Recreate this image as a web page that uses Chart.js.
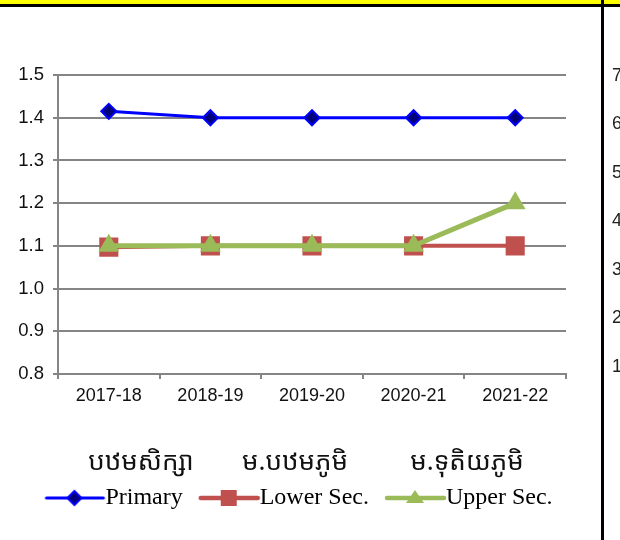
<!DOCTYPE html>
<html>
<head>
<meta charset="utf-8">
<script src="https://cdn.jsdelivr.net/npm/chart.js@4"></script>
<style>
html,body{margin:0;padding:0;background:#fff;}
#wrap{position:relative;width:620px;height:540px;}
canvas{display:block;}
</style>
</head>
<body>
<div id="wrap"><canvas id="c" width="620" height="540"></canvas></div>
<script>
const categories = ['2017-18', '2018-19', '2019-20', '2020-21', '2021-22'];
const primary = [1.415, 1.40, 1.40, 1.40, 1.40];
const lowerSec = [1.097, 1.10, 1.10, 1.10, 1.10];
const upperSec = [1.10, 1.10, 1.10, 1.10, 1.20];
const seriesNames = ['Primary', 'Lower Sec.', 'Upper Sec.'];
const khmerNames = ['បឋមសិក្សា', 'ម.បឋមភូមិ', 'ម.ទុតិយភូមិ'];
const sideTicks = ['7', '6', '5', '4', '3', '2', '1'];
const yMin = 0.8, yMax = 1.5, yStep = 0.1;

const GRID = '#858585';
const BLUE = '#0000ff', NAVY = '#00007a', RED = '#c0504d', GREEN = '#9bbb59';

function swatch(color, lw, drawMarker) {
  const c = document.createElement('canvas');
  c.width = 73; c.height = 24;
  const g = c.getContext('2d');
  g.strokeStyle = color; g.lineWidth = lw; g.lineCap = 'round';
  g.beginPath(); g.moveTo(13, 12); g.lineTo(70, 12); g.stroke();
  drawMarker(g, 41, 12);
  return c;
}
const swPrimary = swatch(BLUE, 3, (g, x, y) => {
  g.beginPath(); g.moveTo(x, y - 7); g.lineTo(x + 7, y); g.lineTo(x, y + 7); g.lineTo(x - 7, y); g.closePath();
  g.fillStyle = NAVY; g.fill(); g.strokeStyle = BLUE; g.lineWidth = 2; g.stroke();
});
const swLower = swatch(RED, 4.5, (g, x, y) => {
  g.fillStyle = RED; g.fillRect(x - 8, y - 8, 16, 16);
});
const swUpper = swatch(GREEN, 4.5, (g, x, y) => {
  g.fillStyle = GREEN; g.beginPath(); g.moveTo(x, y - 8); g.lineTo(x + 9, y + 5); g.lineTo(x - 9, y + 5); g.closePath(); g.fill();
});
const swatches = [swPrimary, swLower, swUpper];

const decor = {
  id: 'decor',
  beforeDraw(chart) {
    const ctx = chart.ctx;
    ctx.save(); ctx.fillStyle = '#fff'; ctx.fillRect(0, 0, chart.width, chart.height); ctx.restore();
  },
  afterDraw(chart) {
    const ctx = chart.ctx;
    ctx.save();
    ctx.fillStyle = '#ffff00'; ctx.fillRect(0, 0, 620, 4);
    ctx.fillStyle = '#000'; ctx.fillRect(0, 4, 620, 3);
    ctx.fillRect(601, 0, 3, 540);
    ctx.fillStyle = '#222';
    ctx.font = '18px "Liberation Sans", Arial, sans-serif';
    ctx.textBaseline = 'middle'; ctx.textAlign = 'left';
    sideTicks.forEach((t, i) => ctx.fillText(t, 612, 76 + i * 48.5));
    ctx.fillStyle = '#111';
    ctx.font = '26px "Noto Sans Khmer", "Khmer OS", "Liberation Serif", serif';
    ctx.textAlign = 'center'; ctx.textBaseline = 'alphabetic';
    const kx = [141, 295, 467];
    khmerNames.forEach((t, i) => ctx.fillText(t, kx[i], 470));
    ctx.restore();
  }
};

const PAD_BOTTOM = 20;
new Chart(document.getElementById('c'), {
  type: 'line',
  data: {
    labels: categories,
    datasets: [
      { label: seriesNames[0], data: primary, borderColor: BLUE, borderWidth: 3, backgroundColor: NAVY,
        pointStyle: 'rectRot', pointRadius: 7.5, pointBorderColor: BLUE, pointBorderWidth: 2, pointBackgroundColor: NAVY, order: 1 },
      { label: seriesNames[1], data: lowerSec, borderColor: RED, borderWidth: 4, backgroundColor: RED,
        pointStyle: 'rect', pointRadius: 13.5, pointBorderWidth: 0, pointBackgroundColor: RED, order: 3 },
      { label: seriesNames[2], data: upperSec, borderColor: GREEN, borderWidth: 5, backgroundColor: GREEN,
        pointStyle: 'triangle', pointRadius: 12, pointBorderWidth: 0, pointBackgroundColor: GREEN, order: 2 }
    ]
  },
  options: {
    responsive: false,
    animation: false,
    events: [],
    layout: { padding: { left: 0, right: 21, top: 75, bottom: PAD_BOTTOM } },
    plugins: {
      tooltip: { enabled: false },
      title: { display: false },
      legend: {
        position: 'bottom',
        labels: {
          usePointStyle: true,
          pointStyleWidth: 47,
          padding: 18,
          color: '#000',
          font: { family: '"Liberation Serif", "Times New Roman", serif', size: 24 },
          generateLabels(chart) {
            return chart.data.datasets.map((ds, i) => ({
              text: ds.label, pointStyle: swatches[i], datasetIndex: i,
              fillStyle: ds.borderColor, strokeStyle: ds.borderColor, lineWidth: 0, hidden: false, fontColor: '#000'
            }));
          }
        }
      }
    },
    scales: {
      x: {
        offset: true,
        grid: {
          offset: true,
          drawOnChartArea: true,
          color: (c) => (c.index === categories.length ? GRID : 'rgba(0,0,0,0)'),
          lineWidth: 2,
          tickColor: GRID,
          tickLength: 5,
          tickWidth: 2
        },
        border: { color: GRID, width: 2 },
        ticks: { color: '#111', font: { family: '"Liberation Sans", Arial, sans-serif', size: 18 }, padding: 6, maxRotation: 0 },
        afterFit(scale) { scale.height = 540 - 374 - PAD_BOTTOM - scale.chart.legend.height; }
      },
      y: {
        min: yMin, max: yMax,
        grid: { color: GRID, lineWidth: 2, tickLength: 5, tickColor: GRID, tickWidth: 2 },
        border: { color: GRID, width: 2 },
        ticks: {
          stepSize: yStep, color: '#111', padding: 9,
          font: { family: '"Liberation Sans", Arial, sans-serif', size: 18.5 },
          callback: (v) => Number(v).toFixed(1)
        },
        afterFit(scale) { scale.width = 58; }
      },
      spacer: {
        type: 'linear',
        position: 'right',
        display: true,
        grid: { display: false, drawTicks: false },
        border: { display: false },
        ticks: { display: false },
        afterFit(scale) { scale.width = 33; }
      }
    }
  },
  plugins: [decor]
});
</script>
</body>
</html>
